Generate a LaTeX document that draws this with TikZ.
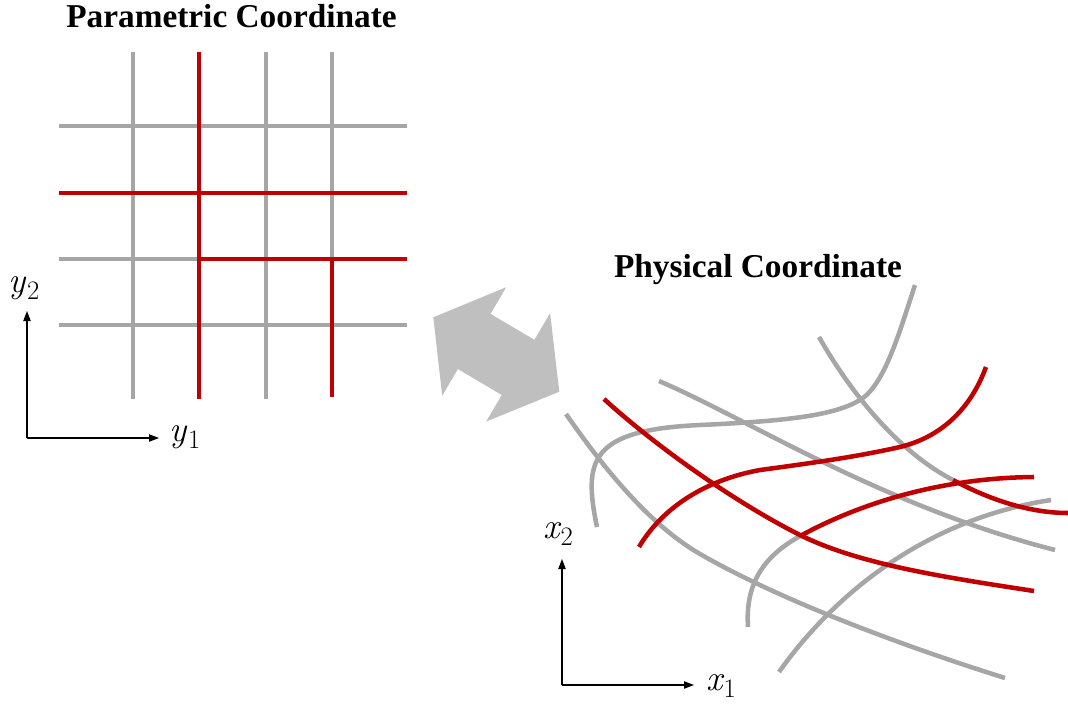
\documentclass[tikz,border=0pt]{standalone}
\usepackage{fontspec}
\newfontfamily\titlefont{Liberation Serif}
\usetikzlibrary{arrows.meta}
\definecolor{lgray}{HTML}{A6A6A6}
\definecolor{dred}{HTML}{C00000}
\definecolor{agray}{HTML}{BFBFBF}
\newcommand\axlbl[2]{{\itshape #1}\kern1pt\raisebox{-5.5pt}{\fontsize{20}{20}\selectfont #2}}
\tikzset{
  gline/.style={draw=lgray, line width=3.4pt},
  rline/.style={draw=dred, line width=3.4pt},
  axisline/.style={draw=black, line width=0.8pt, -{Triangle[length=7.5pt,width=5.5pt]}},
  titletext/.style={font=\titlefont\bfseries\fontsize{25}{30}\selectfont, anchor=base, inner sep=0pt},
  mlabel/.style={font=\fontsize{27}{30}\selectfont, inner sep=0pt},
}
\begin{document}
\begin{tikzpicture}[x=0.75pt,y=-0.75pt]
\path[use as bounding box] (0,0) rectangle (1068,704);

% titles
\node[titletext] (ptitle) at (231.5,27) {Parametric Coordinate};
\node[titletext] (phtitle) at (758,277) {Physical Coordinate};

% ---------- parametric grid ----------
\foreach \y in {126,325} \draw[gline] (59,\y) -- (407,\y);
\draw[gline] (59,259) -- (199,259);
\foreach \x in {133,266} \draw[gline] (\x,52) -- (\x,399);
\draw[gline] (332,52) -- (332,259);
\draw[rline] (59,193) -- (407,193);
\draw[rline] (199,259) -- (407,259);
\draw[rline] (199,52) -- (199,399);
\draw[rline] (332,259) -- (332,397);

% parametric axes
\coordinate (po) at (27,438);
\coordinate (py) at (27,311);
\coordinate (px) at (159,438);
\draw[axisline] (po) -- (py);
\draw[axisline] (po) -- (px);
\node[mlabel] (ly2) at (24,288) {\axlbl{y}{2}};
\node[mlabel] (ly1) at (185,437) {\axlbl{y}{1}};

% ---------- double arrow ----------
\fill[agray] (433.3,317.3) -- (506.2,287.2) -- (490.5,313.9) -- (534.4,339.8)
  -- (550.1,313.2) -- (559.3,391.7) -- (486.1,421.6) -- (501.8,395.0)
  -- (457.9,369.0) -- (442.2,395.7) -- cycle;

% ---------- physical grid ----------
% gray curves
\draw[gline] (597,527) .. controls (583,460) and (590,430) .. (700,425)
  .. controls (790,421) and (835,415) .. (860,400)
  .. controls (885,385) and (900,330) .. (915,285);
\draw[gline] (819,337) .. controls (848,388) and (895,450) .. (953,480);
\draw[gline] (659,381) .. controls (750,420) and (880,505) .. (1055,550);
\draw[gline] (566,414) .. controls (605,470) and (650,525) .. (700,554)
  .. controls (780,600) and (900,645) .. (1005,678);
\draw[gline] (748,627) .. controls (745,582) and (765,555) .. (802,535);
\draw[gline] (779,672) .. controls (830,600) and (920,520) .. (1051,500);
% red curves
\draw[rline] (953,480) .. controls (990,500) and (1030,513) .. (1068,513);
\draw[rline] (604,399) .. controls (660,450) and (740,505) .. (800,535)
  .. controls (860,565) and (950,578) .. (1034,591);
\draw[rline] (639,547) .. controls (662,508) and (705,480) .. (760,470)
  .. controls (820,462) and (860,456) .. (900,447)
  .. controls (945,436) and (972,405) .. (986,367);
\draw[rline] (802,535) .. controls (850,509) and (930,478) .. (1034,477);

% physical axes
\coordinate (xo) at (562,685);
\coordinate (xy) at (562,559);
\coordinate (xx) at (694,685);
\draw[axisline] (xo) -- (xy);
\draw[axisline] (xo) -- (xx);
\node[mlabel] (lx2) at (558,534) {\axlbl{x}{2}};
\node[mlabel] (lx1) at (721,686) {\axlbl{x}{1}};
\end{tikzpicture}
\end{document}
